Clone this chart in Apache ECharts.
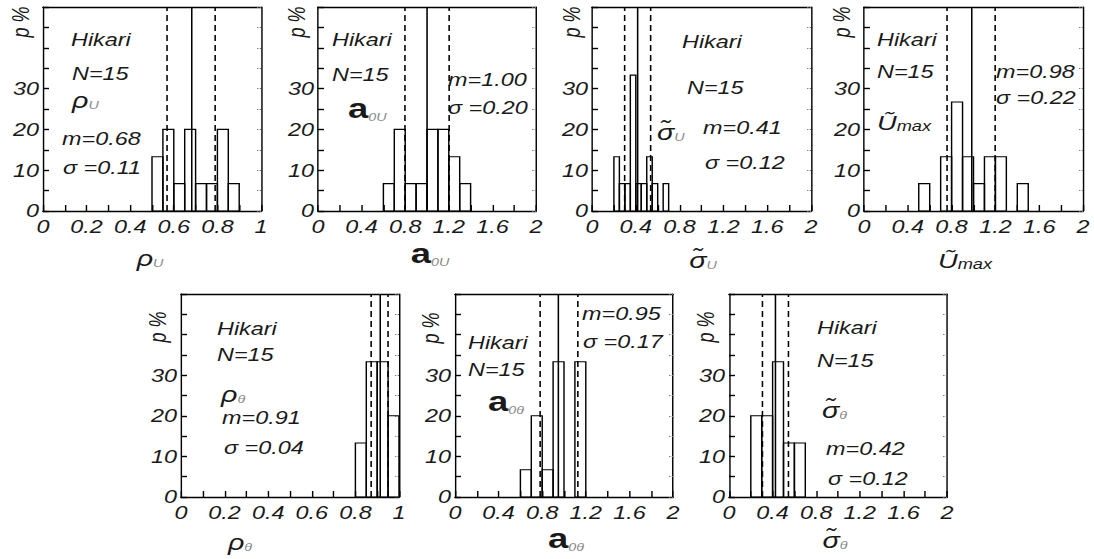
<!DOCTYPE html>
<html><head><meta charset="utf-8">
<script src="https://cdn.jsdelivr.net/npm/echarts@6/dist/echarts.min.js"></script>
<style>
html,body{margin:0;padding:0;background:#fff;overflow:hidden;width:1094px;height:559px}
#c{width:842px;height:559px;transform:scaleX(1.3);transform-origin:0 0}
</style>
</head><body><div id="c"></div>
<script>
// ---------- data ----------
const rhoU_bins = [0.50,0.55,0.60,0.65,0.70,0.75,0.80,0.85];
const rhoU_pct  = [13.3,20,6.7,20,6.7,6.7,20,6.7];
const a0U_bins  = [0.6,0.7,0.8,0.9,1.0,1.1,1.2,1.3];
const a0U_pct   = [6.7,20,6.7,6.7,20,20,13.3,6.7];
const sigU_bins = [0.20,0.25,0.30,0.35,0.40,0.45,0.50,0.55,0.65];
const sigU_pct  = [13.3,6.7,6.7,33.3,6.7,6.7,13.3,6.7,6.7];
const Umax_bins = [0.5,0.7,0.8,0.9,1.0,1.1,1.2,1.4];
const Umax_pct  = [6.7,13.3,26.7,13.3,6.7,13.3,13.3,6.7];
const rhoT_bins = [0.80,0.85,0.90,0.95];
const rhoT_pct  = [13.3,33.3,33.3,20];
const a0T_bins  = [0.6,0.7,0.8,0.9,1.1];
const a0T_pct   = [6.7,20,6.7,33.3,33.3];
const sigT_bins = [0.2,0.3,0.4,0.5,0.6];
const sigT_pct  = [20,20,33.3,13.3,13.3];
const binWidths = [0.05,0.1,0.05,0.1,0.05,0.1,0.1];
const means     = [0.68,1.00,0.41,0.98,0.91,0.95,0.42];
const sigmas    = [0.11,0.20,0.12,0.22,0.04,0.17,0.12];
const xMaxes    = [1,2,2,2,1,2,2];
const sampleN   = [15,15,15,15,15,15,15];
const yLabelTicks = [0,10,20,30];
const allBins = [rhoU_bins,a0U_bins,sigU_bins,Umax_bins,rhoT_bins,a0T_bins,sigT_bins];
const allPct  = [rhoU_pct,a0U_pct,sigU_pct,Umax_pct,rhoT_pct,a0T_pct,sigT_pct];

// ---------- layout (final-pixel coordinates; the figure is horizontally stretched like the source) ----------
const S = 1.3;
const FONT = '"Liberation Sans", Arial, sans-serif';
const TXT = '#1a1a1a';
const grids = [
  {left:43, top:7, width:218, height:204},
  {left:318, top:7, width:218, height:204},
  {left:592, top:7, width:219, height:204},
  {left:864, top:7, width:219, height:204},
  {left:181, top:294, width:218, height:203},
  {left:455, top:294, width:218, height:203},
  {left:729, top:294, width:218, height:203}
];

const option = {animation:false, backgroundColor:'#fff', grid:[], xAxis:[], yAxis:[], series:[], graphic:[]};
const lblStyle = {fontFamily:FONT, fontStyle:'italic', fontSize:18, color:TXT};
const VW = 1.1;  // vertical line width (gets stretched)
const HW = 1.4;  // horizontal line width

grids.forEach((g, i) => {
  option.grid.push({left:g.left / S, top:g.top, width:g.width / S, height:g.height, containLabel:false});
  const xm = xMaxes[i];
  option.xAxis.push({
    gridIndex:i, type:'value', min:0, max:xm, interval: xm === 1 ? 0.2 : 0.4, position:'bottom',
    axisLine:{show:true, onZero:false, lineStyle:{color:'#000', width:HW}},
    axisTick:{show:true, inside:true, length:6, lineStyle:{color:'#000', width:VW}},
    minorTick:{show:true, splitNumber:2, length:6, lineStyle:{color:'#000', width:VW}},
    splitLine:{show:false}, minorSplitLine:{show:false},
    axisLabel:Object.assign({margin:7, formatter: v => String(+v.toFixed(2))}, lblStyle)
  });
  option.xAxis.push({
    gridIndex:i, type:'value', min:0, max:xm, position:'top',
    axisLine:{show:true, onZero:false, lineStyle:{color:'#000', width:HW}},
    axisTick:{show:false}, axisLabel:{show:false}, splitLine:{show:false}
  });
  option.yAxis.push({
    gridIndex:i, type:'value', min:0, max:50, interval:10, position:'left',
    axisLine:{show:true, onZero:false, lineStyle:{color:'#000', width:VW}},
    axisTick:{show:true, inside:true, length:4.6, lineStyle:{color:'#000', width:HW}},
    minorTick:{show:true, splitNumber:2, length:4.6, lineStyle:{color:'#000', width:HW}},
    splitLine:{show:false}, minorSplitLine:{show:false},
    axisLabel:Object.assign({margin:3, formatter: v => yLabelTicks.indexOf(v) >= 0 ? String(v) : ''}, lblStyle)
  });
  option.yAxis.push({
    gridIndex:i, type:'value', min:0, max:50, interval:5, position:'right',
    axisLine:{show:true, onZero:false, lineStyle:{color:'#000', width:VW}},
    axisTick:{show:true, inside:true, length:3.5, lineStyle:{color:'#777', width:1, type:'dotted'}},
    axisLabel:{show:false}, splitLine:{show:false}
  });
  const w = binWidths[i];
  const data = allBins[i].map((s, j) => [s, s + w, allPct[i][j]]);
  const m = means[i], s = sigmas[i];
  option.series.push({
    type:'custom', xAxisIndex:2*i, yAxisIndex:2*i, data:data, silent:true,
    renderItem:(params, api) => {
      const p0 = api.coord([api.value(0), 0]);
      const p1 = api.coord([api.value(1), api.value(2)]);
      return {type:'rect', shape:{x:p0[0], y:p1[1], width:p1[0]-p0[0], height:p0[1]-p1[1]},
              style:{fill:'rgba(255,255,255,0)', stroke:'#000', lineWidth:1.1}};
    },
    markLine:{
      silent:true, symbol:['none','none'], label:{show:false},
      lineStyle:{color:'#000', width:1.2, type:'solid'},
      data:[
        {xAxis:m - s, lineStyle:{type:[6,4], width:1.2}},
        {xAxis:m},
        {xAxis:m + s, lineStyle:{type:[6,4], width:1.2}}
      ]
    }
  });
});

// ---------- text annotations ----------
function T(x, y, text) {
  return {type:'text', x:x / S, y:y, silent:true,
    style:{text:text, font:'italic 18px ' + FONT, fill:TXT, verticalAlign:'middle'}};
}
function R(x, y, text, rich, align) {
  return {type:'text', x:x / S, y:y, silent:true,
    style:{text:text, rich:rich, fill:TXT, verticalAlign:'middle', align:align || 'left', font:'italic 18px ' + FONT}};
}
const richGreek = {
  g:{fontSize:22, fontStyle:'italic', fontFamily:FONT, fill:TXT, verticalAlign:'bottom', lineHeight:26},
  b:{fontSize:28, fontWeight:'bold', fontFamily:FONT, fill:TXT, verticalAlign:'bottom', lineHeight:26},
  s:{fontSize:11, fontStyle:'italic', fontFamily:FONT, fill:'#888', verticalAlign:'bottom', lineHeight:12},
  u:{fontSize:21, fontStyle:'italic', fontFamily:FONT, fill:TXT, verticalAlign:'bottom', lineHeight:26},
  x:{fontSize:14, fontStyle:'italic', fontFamily:FONT, fill:TXT, verticalAlign:'bottom', lineHeight:18}
};
const sym = [
  '{g|ρ}{s|U}', '{b|a}{s|0U}', '{g|σ\u0303}{s|U}', '{u|\u0168}{x|max}',
  '{g|ρ}{s|θ}', '{b|a}{s|0θ}', '{g|σ\u0303}{s|θ}'
];
const mTxt = means.map(v => 'm=' + v.toFixed(2));
const sTxt = sigmas.map(v => 'σ =' + v.toFixed(2));
const nTxt = sampleN.map(v => 'N=' + v);

const G = option.graphic;
// panel annotations [hikari, N, symbol, m, sigma] as [x,y] in final pixels
const ann = [
  [[71,40],[72,74],[72,98],[62,139],[63,168]],
  [[332,40],[332,75],[348,110],[448,80],[448,108]],
  [[682,42],[687,88],[657,130],[703,128],[705,163]],
  [[877,40],[877,72],[877,120],[996,72],[996,98]],
  [[217,329],[217,355],[221,392],[222,418],[224,448]],
  [[468,343],[468,370],[488,403],[582,314],[583,342]],
  [[817,328],[817,361],[822,408],[826,449],[828,479]]
];
ann.forEach((a, i) => {
  G.push(T(a[0][0], a[0][1], 'Hikari'));
  G.push(T(a[1][0], a[1][1], nTxt[i]));
  G.push(R(a[2][0], a[2][1], sym[i], richGreek, 'left'));
  G.push(T(a[3][0], a[3][1], mTxt[i]));
  G.push(T(a[4][0], a[4][1], sTxt[i]));
});
// axis names under x axes
const names = [[150,256],[430,255],[703,258],[965,258],[240,540],[566,540],[835,538]];
names.forEach((p, i) => G.push(R(p[0], p[1], sym[i], richGreek, 'center')));
// rotated "p %" labels
const pPos = [[21,22],[297,22],[572,22],[842,22],[158,327],[431,328],[706,327]];
pPos.forEach(p => G.push({type:'text', x:p[0] / S, y:p[1], rotation:Math.PI/2, silent:true,
  style:{text:'p %', font:'italic 18px ' + FONT, fill:TXT, align:'center', verticalAlign:'middle'}}));

const chart = echarts.init(document.getElementById('c'), null, {renderer:'svg'});
chart.setOption(option);
</script></body></html>
